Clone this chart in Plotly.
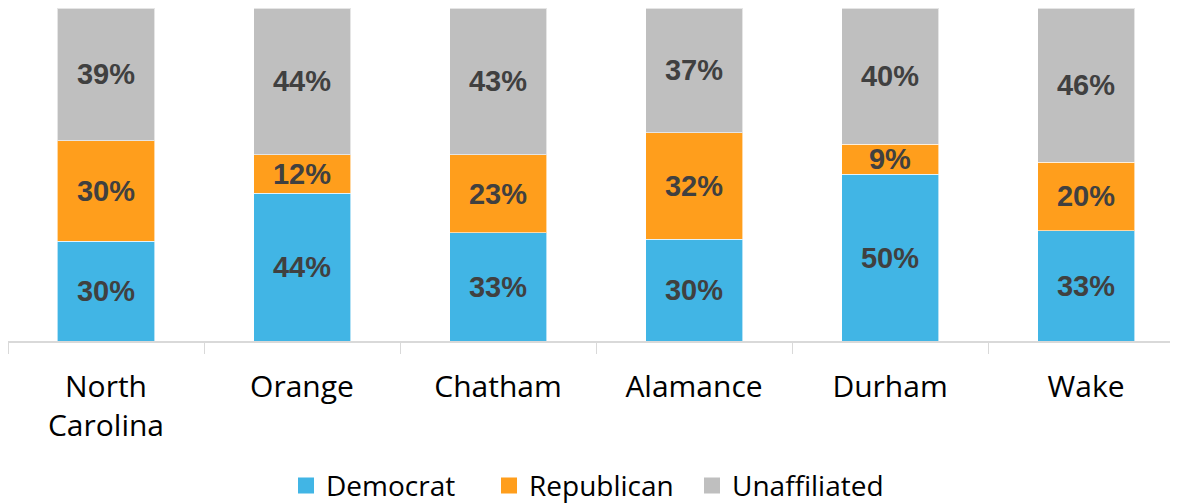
import plotly.graph_objects as go

categories = ["North<br>Carolina", "Orange", "Chatham", "Alamance", "Durham", "Wake"]
democrat = [30.0, 44.3, 32.5, 30.5, 50.1, 33.1]
republican = [30.1, 11.7, 23.5, 32.0, 9.0, 20.6]
unaffiliated = [39.9, 44.0, 44.0, 37.5, 40.8, 46.3]
dem_labels = ["30%", "44%", "33%", "30%", "50%", "33%"]
rep_labels = ["30%", "12%", "23%", "32%", "9%", "20%"]
una_labels = ["39%", "44%", "43%", "37%", "40%", "46%"]

series = [
    ("Democrat", democrat, dem_labels, "#41B5E5"),
    ("Republican", republican, rep_labels, "#FF9E1C"),
    ("Unaffiliated", unaffiliated, una_labels, "#BFBFBF"),
]

fig = go.Figure()
for name, vals, labels, color in series:
    fig.add_trace(go.Bar(
        x=categories, y=vals, name=name, text=labels,
        textposition="inside", insidetextanchor="middle",
        textfont=dict(family="Liberation Sans, Arial, sans-serif", size=29, color="#404040", weight="bold"),
        marker=dict(color=color, line=dict(color="rgba(255,255,255,0.6)", width=1)),
        width=0.495, showlegend=False, hoverinfo="skip",
    ))
# legend entries with larger square symbols
for name, vals, labels, color in series:
    fig.add_trace(go.Scatter(
        x=[None], y=[None], mode="markers", name=name,
        marker=dict(symbol="square", size=18, color=color),
        showlegend=True,
    ))

fig.update_layout(
    barmode="stack", barnorm="percent",
    width=1178, height=504,
    margin=dict(l=0, r=0, t=0, b=171),
    paper_bgcolor="white", plot_bgcolor="white",
    uniformtext=dict(minsize=29, mode="show"),
    showlegend=True,
    legend=dict(
        orientation="h", x=0.236, xanchor="left", y=-0.435, yanchor="middle",
        font=dict(family="Open Sans, sans-serif", size=28, color="#000000"),
        itemwidth=30, tracegroupgap=0, traceorder="normal",
        entrywidth=158, entrywidthmode="pixels",
    ),
    xaxis=dict(
        type="category", range=[-0.5, 5.51],
        showline=True, linecolor="#D9D9D9", linewidth=1.5,
        ticks="outside", tickson="boundaries", ticklen=11, tickcolor="#D9D9D9", tickwidth=1,
        ticklabelstandoff=18,
        tickfont=dict(family="Open Sans, sans-serif", size=30, color="#000000"),
        showgrid=False,
    ),
    yaxis=dict(range=[0, 100], visible=False, showgrid=False),
)

fig.write_html("out.html")
